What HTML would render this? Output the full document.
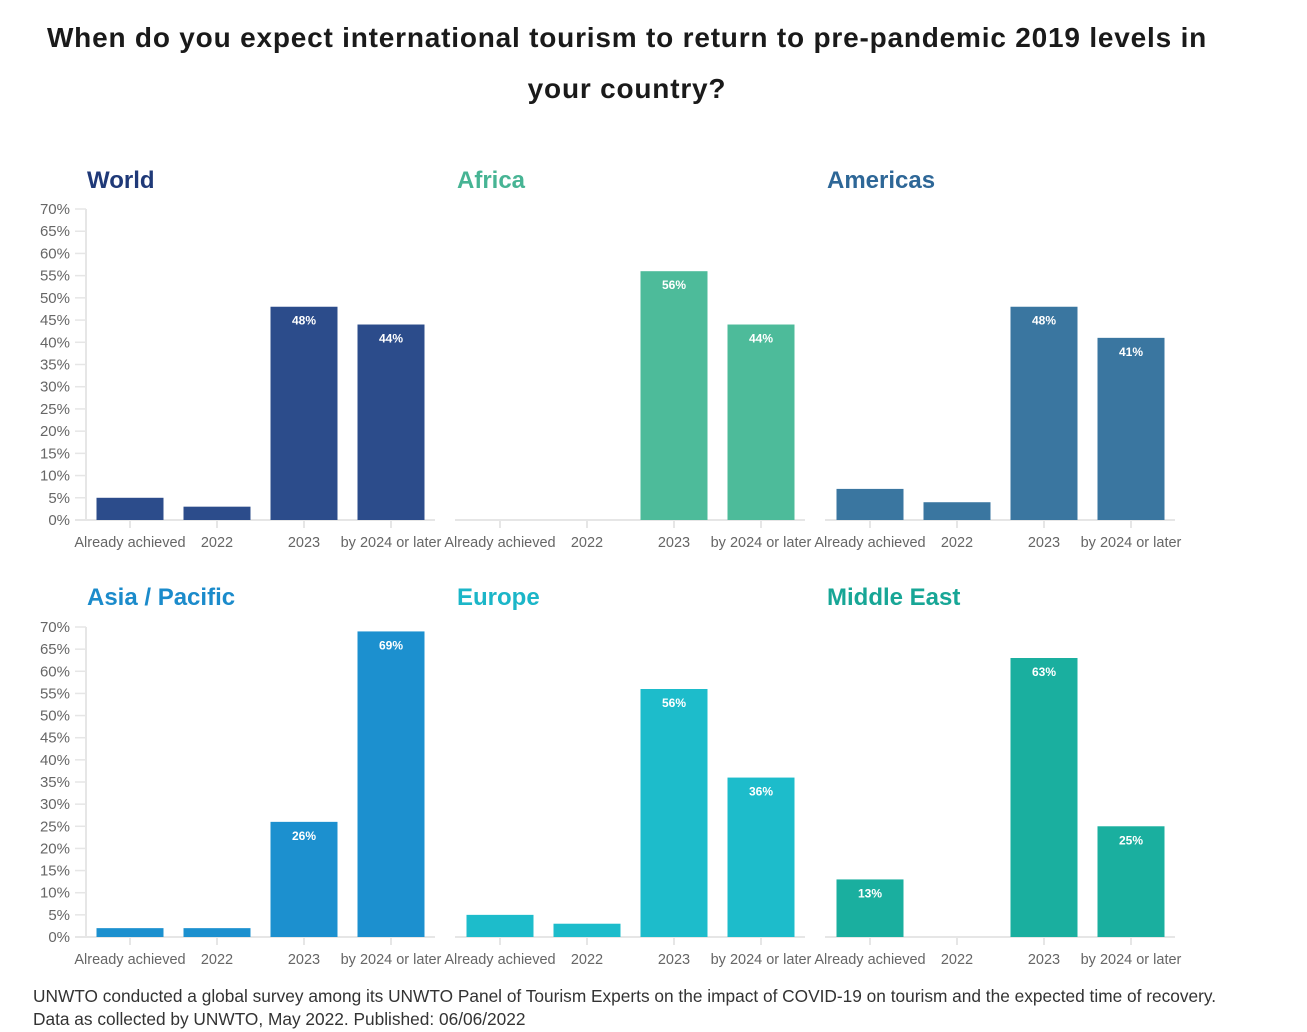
<!DOCTYPE html>
<html><head><meta charset="utf-8"><style>
body{margin:0;background:#fff;width:1307px;height:1032px;overflow:hidden;font-family:"Liberation Sans",sans-serif}
h1{position:absolute;left:27px;width:1200px;top:12px;margin:0;text-align:center;font-size:28px;line-height:51px;font-weight:bold;color:#1a1a1a;letter-spacing:0.8px}
.note{position:absolute;left:33px;font-size:17.3px;color:#333}
</style></head><body>
<h1>When do you expect international tourism to return to pre-pandemic 2019 levels in your country?</h1>
<svg id="c" width="1307" height="1032" style="position:absolute;left:0;top:0"></svg>
<div class="note" style="top:986px">UNWTO conducted a global survey among its UNWTO Panel of Tourism Experts on the impact of COVID-19 on tourism and the expected time of recovery.</div>
<div class="note" style="top:1009px">Data as collected by UNWTO, May 2022. Published: 06/06/2022</div>
<script>
const categories=["Already achieved","2022","2023","by 2024 or later"];
const regions=["World","Africa","Americas","Asia / Pacific","Europe","Middle East"];
const worldVals=[5,3,48,44];
const africaVals=[0,0,56,44];
const americasVals=[7,4,48,41];
const asiaVals=[2,2,26,69];
const europeVals=[5,3,56,36];
const meVals=[13,0,63,25];
const yTicks=[0,5,10,15,20,25,30,35,40,45,50,55,60,65,70];
const seriesVals=[worldVals,africaVals,americasVals,asiaVals,europeVals,meVals];
const barColors=["#2c4c8b","#4dbb9a","#3a76a0","#1c90cf","#1dbccb","#1aaf9f"];
const titleColors=["#1f3978","#47b494","#2e6797","#1b8bcb","#1bb6c8","#17a696"];
const NS="http://www.w3.org/2000/svg";
const svg=document.getElementById('c');
function mk(t,a,txt){const e=document.createElementNS(NS,t);for(const k in a)e.setAttribute(k,a[k]);if(txt!=null)e.textContent=txt;svg.appendChild(e);return e;}
regions.forEach((r,i)=>{
  const off=(i%3)*370, row=Math.floor(i/3);
  const y0=row?937:520, y70=row?627:209;
  const y=v=>y0-(v/70)*(y0-y70);
  const x=j=>130+off+j*87;
  let t=mk('text',{x:87+off,y:row?605:188,'font-size':24,'font-weight':'bold',fill:titleColors[i]},r);
  
  
  if(off===0){
    let ax=mk('line',{x1:86,x2:86,y1:y70,y2:y0,stroke:'#e6e6e6','stroke-width':2});
    
    
    yTicks.forEach(v=>{
      mk('line',{x1:75,x2:86,y1:y(v),y2:y(v),stroke:'#e6e6e6','stroke-width':1.5});
      let l=mk('text',{x:70,y:y(v)+5,'text-anchor':'end','font-size':15,fill:'#666'},v+'%');
      
      
    });
  }
  let bl=mk('line',{x1:off?85+off:75,x2:435+off,y1:y0,y2:y0,stroke:'#e6e6e6','stroke-width':2});
  
  
  categories.forEach((c,j)=>{
    mk('line',{x1:x(j),x2:x(j),y1:y0,y2:y0+8,stroke:'#e6e6e6','stroke-width':2});
    let l=mk('text',{x:x(j),y:y0+27,'text-anchor':'middle','font-size':14.5,fill:'#666'},c);
    
    
    const v=seriesVals[i][j];
    if(v>0){
      let b=mk('rect',{x:x(j)-33.5,y:y(v),width:67,height:y0-y(v),fill:barColors[i]});
      
      
      if(v>=10){
        let vl=mk('text',{x:x(j),y:y(v)+18,'text-anchor':'middle','font-size':12,'font-weight':'bold',fill:'#fff'},v+'%');
        
        
      }
    }
  });
});
</script>
</body></html>
